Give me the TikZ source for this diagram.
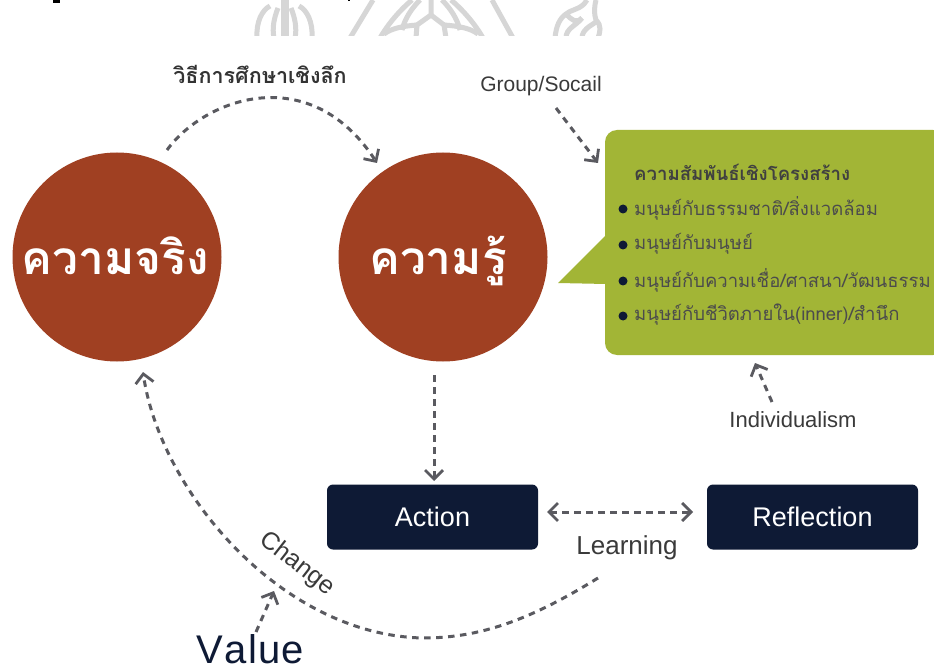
\documentclass[tikz,border=0pt]{standalone}
\usepackage{fontspec}
\usetikzlibrary{arrows.meta}
\setmainfont{Liberation Sans}
\newfontfamily\thaifont[Script=Thai]{Loma}
\definecolor{rust}{HTML}{A04022}
\definecolor{leaf}{HTML}{A2B536}
\definecolor{navy}{HTML}{0E1A35}
\definecolor{dashc}{HTML}{5A5A60}
\definecolor{txt}{HTML}{3A3A3A}
\definecolor{mark}{HTML}{D6D6D6}
\tikzset{
  bigcircle/.style={circle,fill=rust,minimum size=209pt,inner sep=0pt},
  bigword/.style={anchor=base,text=white,inner sep=0pt,font=\thaifont\bfseries\fontsize{46}{50}\selectfont},
  darkbox/.style={rounded corners=6pt,fill=navy,text=white,minimum width=211pt,minimum height=65pt,inner sep=0pt,font=\fontsize{27}{30}\selectfont},
  flow/.style={draw=dashc,line width=3pt,dash pattern=on 6.5pt off 5.5pt,-{Straight Barb[length=9pt,width=18pt,line width=2.8pt]}},
  flowboth/.style={flow,{Straight Barb[length=9pt,width=18pt,line width=2.8pt]}-{Straight Barb[length=9pt,width=18pt,line width=2.8pt]}},
  label/.style={text=txt,inner sep=0pt,font=\fontsize{21}{24}\selectfont},
  thailabel/.style={text=black!80,inner sep=0pt,font=\thaifont\bfseries\fontsize{21.5}{24}\selectfont},
  listitem/.style={anchor=west,text=black!70,inner sep=0pt,font=\thaifont\fontsize{18.5}{24}\selectfont},
  dot/.style={circle,fill=navy,minimum size=9pt,inner sep=0pt},
  wm/.style={draw=mark,line width=5pt},
}
\begin{document}
\begin{tikzpicture}[x=1pt,y=-1pt]
\useasboundingbox (0,0) rectangle (934,668);
\fill[white] (0,0) rectangle (934,668);
% cut-off marks at the top edge
\fill[black] (53,0) rectangle (60,3);
\fill[black] (348,0) rectangle (350,1.5);
% watermark fragments
\begin{scope}
\clip (240,0) rectangle (620,36);
% left emblem
\draw[wm] (257,38) .. controls (256,22) and (262,10) .. (270,6);
\draw[wm] (312,38) .. controls (313,22) and (307,10) .. (299,6);
\draw[wm] (274,38) .. controls (272,28) and (274,18) .. (278,8);
\draw[wm] (295,38) .. controls (297,28) and (295,18) .. (291,8);
\draw[wm] (283,38) -- (283,0);
\draw[wm] (286,0) -- (286,38);
% centre emblem
\draw[wm] (350,38) -- (373,0);
\draw[wm] (513,38) -- (492,0);
\draw[wm] (380,38) .. controls (388,24) and (400,10) .. (412,0);
\draw[wm] (483,38) .. controls (475,24) and (463,10) .. (451,0);
\draw[wm] (402,30) .. controls (405,18) and (412,8) .. (420,0);
\draw[wm] (460,30) .. controls (457,18) and (450,8) .. (442,0);
\draw[wm] (431,0) -- (431,15) -- (417,25) -- (416,38);
\draw[wm] (431,15) -- (444,25) -- (446,38);
\draw[wm] (384,34) .. controls (392,28) and (404,26) .. (417,25);
\draw[wm] (444,25) .. controls (458,26) and (470,28) .. (478,34);
% right emblem
\draw[wm] (555,38) .. controls (556,26) and (560,18) .. (566,14) .. controls (570,10) and (578,10) .. (584,4) -- (587,0);
\draw[wm] (596,0) .. controls (594,8) and (594,14) .. (596,20) .. controls (602,26) and (600,32) .. (598,38);
\draw[wm] (566,38) .. controls (566,28) and (576,26) .. (582,18);
\draw[wm] (582,38) .. controls (582,30) and (590,26) .. (596,22);
\draw[wm] (566,14) .. controls (572,20) and (576,24) .. (582,18);
\end{scope}
% circles
\node[bigcircle] (truth) at (117,257) {};
\node[bigcircle] (know) at (443,257) {};
\node[bigword] (truthw) at (115,275) {ความจริง};
\node[bigword] (knoww) at (438,275) {ความรู้};
% speech bubble
\fill[leaf,rounded corners=12pt] (605,130) rectangle (945,355);
\fill[leaf] (606,235) -- (558,283) -- (606,284) -- cycle;
\node[inner sep=0pt,anchor=west,text=black!75,font=\thaifont\bfseries\fontsize{18.6}{22}\selectfont] (bubhead) at (634,172) {ความสัมพันธ์เชิงโครงสร้าง};
\node[dot] (d1) at (623,209) {};
\node[dot] (d2) at (623,245) {};
\node[dot] (d3) at (623,281) {};
\node[dot] (d4) at (623,316) {};
\node[listitem] (i1) at (634,208) {มนุษย์กับธรรมชาติ/สิ่งแวดล้อม};
\node[listitem] (i2) at (634,244) {มนุษย์กับมนุษย์};
\node[listitem] (i3) at (634,280) {มนุษย์กับความเชื่อ/ศาสนา/วัฒนธรรม};
\node[listitem] (i4) at (634,315) {มนุษย์กับชีวิตภายใน(inner)/สำนึก};
% boxes
\node[darkbox] (action) at (432.5,517) {Action};
\node[darkbox] (reflect) at (812.5,517) {Reflection};
% labels
\node[thailabel] (method) at (260,74) {วิธีการศึกษาเชิงลึก};
\node[label] (group) at (541,86) {Group/Socail};
\node[label,font=\fontsize{22}{26}\selectfont] (indiv) at (793,420) {Individualism};
\node[label,font=\fontsize{26}{30}\selectfont] (learn) at (627,548) {Learning};
\node[label,font=\fontsize{25}{30}\selectfont,rotate=-38] (change) at (297,564) {Change};
\node[anchor=base,text=navy,inner sep=0pt,font=\fontsize{40}{44}\selectfont] (value) at (250,663) {V\kern1.5pt a\kern1.5pt l\kern1pt u\kern1pt e};
% connectors
\coordinate (m1) at (167,150);
\coordinate (m2) at (377,163);
\coordinate (g1) at (556,108);
\coordinate (g2) at (598,163);
\coordinate (k1) at (434,375);
\coordinate (k2) at (434,481);
\coordinate (b1) at (547,512);
\coordinate (b2) at (693,512);
\coordinate (l1) at (598,578);
\coordinate (l2) at (423,638);
\coordinate (l3) at (143,372);
\coordinate (v1) at (256,632);
\coordinate (v2) at (274,591);
\coordinate (n1) at (772,402);
\coordinate (n2) at (755,363);
\draw[flow] (m1) .. controls (205,98) and (310,60) .. (m2);
\draw[flow] (g1) -- (g2);
\draw[flow] (k1) -- (k2);
\draw[flowboth] (b1) -- (b2);
\draw[flow] (l1) .. controls (530,620) and (480,638) .. (l2) .. controls (280,635) and (160,490) .. (l3);
\draw[flow] (v1) -- (v2);
\draw[flow] (n1) -- (n2);
\end{tikzpicture}
\end{document}
